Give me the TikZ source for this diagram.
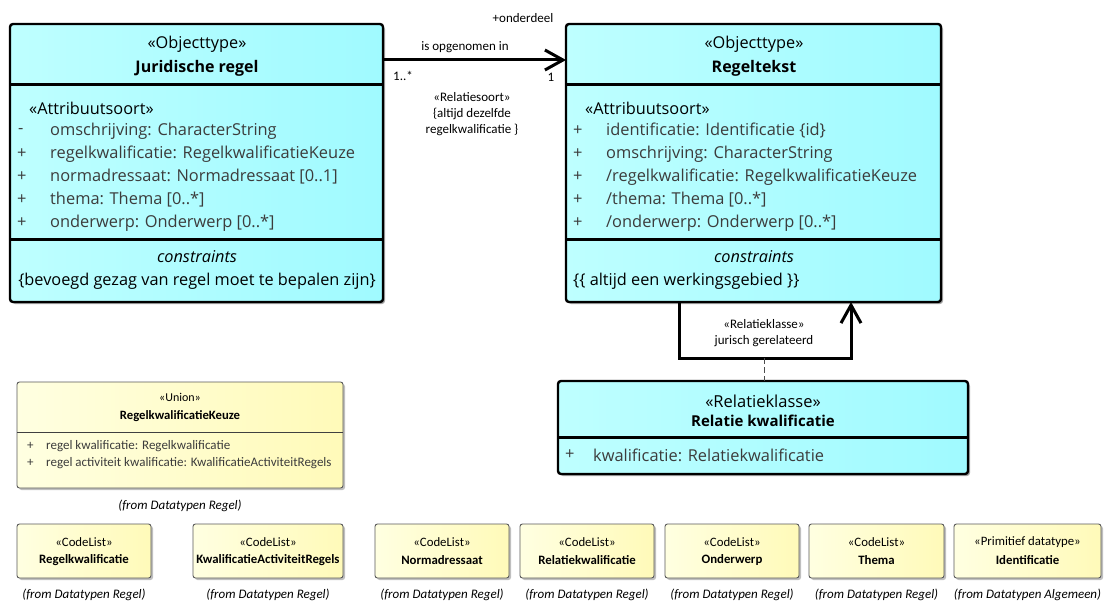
\documentclass[tikz,border=0pt]{standalone}
\usepackage{fontspec}
\setmainfont{Open Sans}
\newfontfamily\smallfnt{Carlito}
\usetikzlibrary{arrows.meta,shadows}
\definecolor{cyanL}{RGB}{190,255,255}
\definecolor{cyanR}{RGB}{160,250,255}
\definecolor{ylwL}{RGB}{255,255,225}
\definecolor{ylwR}{RGB}{255,250,185}
\definecolor{attr}{RGB}{60,60,60}
\begin{document}
\begin{tikzpicture}[x=1pt,y=-1pt,
  cls/.style={draw=black, line width=2.4pt, rounded corners=3pt, left color=cyanL, right color=cyanR,
    drop shadow={shadow xshift=2pt,shadow yshift=-2pt,opacity=0.35,fill=black}, inner sep=0pt, outer sep=0pt},
  ylw/.style={draw=black!65, line width=0.9pt, rounded corners=2.5pt, left color=ylwL, right color=ylwR,
    drop shadow={shadow xshift=2pt,shadow yshift=-2pt,opacity=0.25,fill=black}, inner sep=0pt, outer sep=0pt},
  divthick/.style={line width=3pt},
  divthin/.style={line width=0.8pt, draw=black!75},
  big/.style={inner sep=0pt, font=\fontsize{16.3}{18}\selectfont},
  bigb/.style={inner sep=0pt, font=\fontsize{16}{18}\selectfont\bfseries},
  bigi/.style={inner sep=0pt, font=\fontsize{16.3}{18}\selectfont\itshape},
  attrtxt/.style={inner sep=0pt, anchor=west, text=attr, font=\fontsize{16.4}{18}\selectfont},
  sm/.style={inner sep=0pt, font=\smallfnt\fontsize{12.8}{14}\selectfont},
  smb/.style={inner sep=0pt, font=\smallfnt\fontsize{12.8}{14}\selectfont\bfseries},
  smi/.style={inner sep=0pt, font=\smallfnt\fontsize{13}{14}\selectfont\itshape},
  sma/.style={inner sep=0pt, anchor=west, text=attr, font=\smallfnt\fontsize{13}{14}\selectfont},
  lbl/.style={inner sep=0pt, font=\smallfnt\fontsize{13}{14}\selectfont},
  conn/.style={line width=3pt},
  opentip/.style={-{Straight Barb[length=18pt,width=20pt]}}
]
\useasboundingbox (0,0) rectangle (1110,604);

% ---------- Juridische regel ----------
\node[cls, minimum width=373pt, minimum height=278pt] (jr) at (196.5,163) {};
\draw[divthick] (jr.west |- 0,85) -- (jr.east |- 0,85);
\draw[divthick] (jr.west |- 0,239) -- (jr.east |- 0,239);
\node[big] (jrs) at (197,44) {«Objecttype»};
\node[bigb] (jrn) at (197,68) {Juridische regel};
\node[big, anchor=west] (jras) at (29,108) {«Attribuutsoort»};
\node[attrtxt] (jrv1) at (18,131) {-};
\node[attrtxt] (jra1) at (50,131) {omschrijving: CharacterString};
\node[attrtxt] (jrv2) at (17,154) {+};
\node[attrtxt] (jra2) at (50,154) {regelkwalificatie: RegelkwalificatieKeuze};
\node[attrtxt] (jrv3) at (17,177) {+};
\node[attrtxt] (jra3) at (50,177) {normadressaat: Normadressaat [0..1]};
\node[attrtxt] (jrv4) at (17,200) {+};
\node[attrtxt] (jra4) at (50,200) {thema: Thema [0..*]};
\node[attrtxt] (jrv5) at (17,223) {+};
\node[attrtxt] (jra5) at (50,223) {onderwerp: Onderwerp [0..*]};
\node[bigi] (jrc) at (197,257) {constraints};
\node[big] (jrct) at (197,281) {\{bevoegd gezag van regel moet te bepalen zijn\}};

% ---------- Regeltekst ----------
\node[cls, minimum width=375pt, minimum height=278pt] (rt) at (753.5,163) {};
\draw[divthick] (rt.west |- 0,85) -- (rt.east |- 0,85);
\draw[divthick] (rt.west |- 0,239) -- (rt.east |- 0,239);
\node[big] (rts) at (754,44) {«Objecttype»};
\node[bigb] (rtn) at (754,68) {Regeltekst};
\node[big, anchor=west] (rtas) at (585,108) {«Attribuutsoort»};
\node[attrtxt] (rtv1) at (573,131) {+};
\node[attrtxt] (rta1) at (606,131) {identificatie: Identificatie \{id\}};
\node[attrtxt] (rtv2) at (573,154) {+};
\node[attrtxt] (rta2) at (606,154) {omschrijving: CharacterString};
\node[attrtxt] (rtv3) at (573,177) {+};
\node[attrtxt] (rta3) at (606,177) {/regelkwalificatie: RegelkwalificatieKeuze};
\node[attrtxt] (rtv4) at (573,200) {+};
\node[attrtxt] (rta4) at (606,200) {/thema: Thema [0..*]};
\node[attrtxt] (rtv5) at (573,223) {+};
\node[attrtxt] (rta5) at (606,223) {/onderwerp: Onderwerp [0..*]};
\node[bigi] (rtc) at (754,257) {constraints};
\node[big, anchor=west] (rtct) at (573,281) {\{\{ altijd een werkingsgebied \}\}};

% ---------- association ----------
\draw[conn, opentip] (jr.east |- 0,60) -- (rt.west |- 0,60);
\node[lbl] (l1) at (523,18) {+onderdeel};
\node[lbl] (l2) at (465,47) {is opgenomen in};
\node[lbl] (l3) at (403,76) {1..*};
\node[lbl] (l4) at (551,77) {1};
\node[lbl] (l5) at (472,97) {«Relatiesoort»};
\node[lbl] (l6) at (472,114) {\{altijd dezelfde};
\node[lbl] (l7) at (472,130) {regelkwalificatie \}};

% ---------- self association ----------
\coordinate (ac) at (764,358);
\draw[conn, opentip] (rt.south -| 679,0) -- (679,358) -- (851,358) -- (rt.south -| 851,0);
\node[lbl] (l8) at (764,324) {«Relatieklasse»};
\node[lbl] (l9) at (764,341) {jurisch gerelateerd};

% ---------- Relatie kwalificatie ----------
\node[cls, minimum width=410pt, minimum height=93pt] (rk) at (763,427.5) {};
\draw[line width=0.9pt, draw=black!70, dash pattern=on 6pt off 3pt] (ac) -- (rk.north -| ac);
\draw[divthick] (rk.west |- 0,437) -- (rk.east |- 0,437);
\node[big, font=\fontsize{16.5}{18}\selectfont] (rks) at (763,401) {«Relatieklasse»};
\node[bigb, font=\fontsize{15}{17}\selectfont\bfseries] (rkn) at (763,421) {Relatie kwalificatie};
\node[attrtxt] (rkv1) at (565,455) {+};
\node[attrtxt] (rka1) at (593,455) {kwalificatie: Relatiekwalificatie};

% ---------- Union ----------
\node[ylw, minimum width=326pt, minimum height=106pt] (un) at (180,435) {};
\draw[divthin] (un.west |- 0,432) -- (un.east |- 0,432);
\node[sm, font=\smallfnt\fontsize{12}{14}\selectfont] (uns) at (180,397) {«Union»};
\node[smb, font=\smallfnt\fontsize{12.7}{14}\selectfont\bfseries] (unn) at (180,416) {RegelkwalificatieKeuze};
\node[sma] (unv1) at (27,446) {+};
\node[sma] (una1) at (46,446) {regel kwalificatie: Regelkwalificatie};
\node[sma] (unv2) at (27,463) {+};
\node[sma] (una2) at (46,463) {regel activiteit kwalificatie: KwalificatieActiviteitRegels};
\node[smi] (unf) at (180,506) {(from Datatypen Regel)};

% ---------- bottom row ----------
\node[ylw, minimum width=134pt, minimum height=54pt] (c1) at (84,551) {};
\node[sm] (c1s) at (84,542) {«CodeList»};
\node[smb] (c1n) at (84,560) {Regelkwalificatie};
\node[smi] (c1f) at (84,595) {(from Datatypen Regel)};

\node[ylw, minimum width=150pt, minimum height=54pt] (c2) at (268,551) {};
\node[sm] (c2s) at (268,542) {«CodeList»};
\node[smb] (c2n) at (268,560) {KwalificatieActiviteitRegels};
\node[smi] (c2f) at (268,595) {(from Datatypen Regel)};

\node[ylw, minimum width=134pt, minimum height=54pt] (c3) at (442,551) {};
\node[sm] (c3s) at (442,542) {«CodeList»};
\node[smb] (c3n) at (442,560) {Normadressaat};
\node[smi] (c3f) at (442,595) {(from Datatypen Regel)};

\node[ylw, minimum width=134pt, minimum height=54pt] (c4) at (587,551) {};
\node[sm] (c4s) at (587,542) {«CodeList»};
\node[smb] (c4n) at (587,560) {Relatiekwalificatie};
\node[smi] (c4f) at (587,595) {(from Datatypen Regel)};

\node[ylw, minimum width=134pt, minimum height=54pt] (c5) at (732,551) {};
\node[sm] (c5s) at (732,542) {«CodeList»};
\node[smb] (c5n) at (732,560) {Onderwerp};
\node[smi] (c5f) at (732,595) {(from Datatypen Regel)};

\node[ylw, minimum width=135pt, minimum height=54pt] (c6) at (876.5,551) {};
\node[sm] (c6s) at (876.5,542) {«CodeList»};
\node[smb] (c6n) at (876.5,560) {Thema};
\node[smi] (c6f) at (876.5,595) {(from Datatypen Regel)};

\node[ylw, minimum width=147pt, minimum height=54pt] (c7) at (1027.5,551) {};
\node[sm] (c7s) at (1027.5,542) {«Primitief datatype»};
\node[smb] (c7n) at (1027.5,560) {Identificatie};
\node[smi] (c7f) at (1027.5,595) {(from Datatypen Algemeen)};
\end{tikzpicture}
\end{document}
